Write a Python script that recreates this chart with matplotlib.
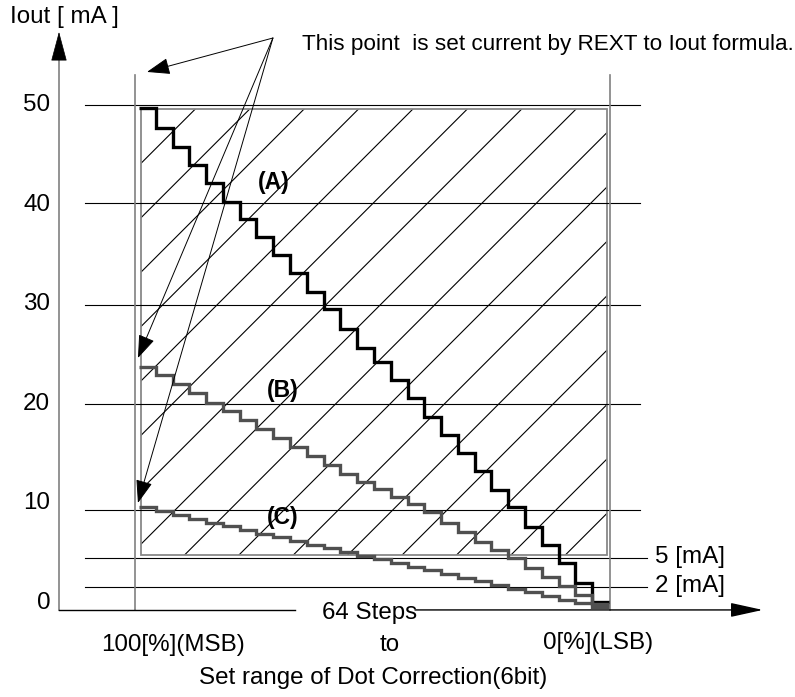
import numpy as np
import matplotlib
matplotlib.use('Agg')
import matplotlib.pyplot as plt
from matplotlib.patches import Rectangle
from matplotlib.collections import LineCollection

plt.rcParams['font.family'] = ['Liberation Sans', 'DejaVu Sans']

# Iout [mA] for each drawn step, from MSB (left) to LSB (right)
curve_a = [49.7, 47.7, 45.8, 44.0, 42.2, 40.3, 38.6, 36.8, 35.0, 33.2, 31.3, 29.5, 27.5, 25.6,
           24.2, 22.4, 20.6, 18.7, 16.9, 15.1, 13.3, 11.4, 9.6, 7.6, 5.8, 4.0, 2.0, 0.1]
curve_b = [23.7, 22.9, 22.0, 21.1, 20.1, 19.3, 18.4, 17.5, 16.6, 15.7, 14.8, 13.9, 13.0, 12.2,
           11.5, 10.7, 9.9, 9.1, 8.0, 7.1, 6.1, 5.3, 4.5, 3.5, 2.6, 1.7, 0.8, -0.1]
curve_c = [9.6, 9.2, 8.8, 8.4, 8.0, 7.7, 7.3, 6.9, 6.6, 6.2, 5.8, 5.5, 5.1, 4.7,
           4.4, 4.0, 3.6, 3.3, 2.9, 2.5, 2.2, 1.8, 1.4, 1.1, 0.7, 0.3, 0.0, -0.4]
curve_names = ['(A)', '(B)', '(C)']
curve_colors = ['#000000', '#505050', '#505050']

y_ticks = [0, 10, 20, 30, 40, 50]
guide_lines = [50.0, 40.2, 29.9, 20.0, 9.3]
limit_lines = [4.5, 1.6]
limit_labels = ['5 [mA]', '2 [mA]']
n_steps = 64

FS = 17.4

fig = plt.figure(figsize=(7.95, 6.97), dpi=100)
ax = fig.add_axes([0, 0, 1, 1])
ax.set_xlim(-18.19, 88.95)
ax.set_ylim(-9.45, 60.60)
ax.axis('off')

y_axis_x = -10.24
x_axis_y = -0.70

# set range box with hatching
box = Rectangle((0.81, 4.82), 63.6 - 0.81, 49.65 - 4.82, fill=False,
                edgecolor='#888888', lw=1.3, zorder=2)
ax.add_patch(box)

# 45 degree hatch lines, drawn in pixels and mapped back to data
(bx0, by0), (bx1, by1) = ax.transData.transform([(0.81, 4.82), (63.6, 49.65)])
spacing = 54.4
k = by1 - bx0
segs = []
while k >= by0 - bx1 - spacing:
    xs = np.array([bx0 - 20, bx1 + 20])
    pts = np.column_stack([xs, xs + k])
    segs.append(ax.transData.inverted().transform(pts))
    k -= spacing
hatch = LineCollection(segs, colors='black', linewidths=0.8, zorder=1)
ax.add_collection(hatch)
hatch.set_clip_path(box)

# guide lines
for y in guide_lines:
    ax.plot([-6.74, 68.04], [y, y], color='black', lw=0.8, zorder=2)
for y, lab in zip(limit_lines, limit_labels):
    ax.plot([-6.74, 69.0], [y, y], color='black', lw=0.8, zorder=2)
    ax.text(70.06, y + 0.15, lab, fontsize=FS, va='center', ha='left')

# MSB / LSB verticals
for x in [0, n_steps]:
    ax.plot([x, x], [x_axis_y, 53.07], color='#808080', lw=1.2, zorder=2)

# step curves
edges = np.linspace(0.54, 63.87, len(curve_a) + 1)
for vals, col in zip([curve_a, curve_b, curve_c], curve_colors):
    ax.stairs(vals, edges, baseline=None, color=col, lw=2.4, zorder=4)

for name, (x, y) in zip(curve_names, [(18.73, 42.3), (19.94, 21.4), (19.94, 8.64)]):
    ax.text(x, y, name, fontsize=16.5, fontweight='bold', ha='center', va='center', zorder=5)

# axes with arrowheads
ax.plot([y_axis_x, y_axis_x], [x_axis_y, 54.8], color='#808080', lw=1.2)
ax.annotate('', xy=(y_axis_x, 57.4), xytext=(y_axis_x, 54.6),
            arrowprops=dict(arrowstyle='-|>,head_length=0.97,head_width=0.26',
                            mutation_scale=20, color='black', lw=0.5,
                            shrinkA=0, shrinkB=0))
ax.plot([y_axis_x, 21.56], [x_axis_y, x_axis_y], color='black', lw=1.0)
ax.annotate('', xy=(84.6, x_axis_y), xytext=(37.73, x_axis_y),
            arrowprops=dict(arrowstyle='-|>,head_length=1.0,head_width=0.22',
                            mutation_scale=20, color='black', lw=1.0,
                            shrinkA=0, shrinkB=0))

for v in y_ticks:
    ax.text(-11.45, v, str(v), fontsize=FS, ha='right', va='center')
ax.text(-16.85, 58.9, 'Iout [ mA ]', fontsize=FS, ha='left', va='center')

# pointer arrows from the note
origin = (18.59, 56.78)
for tip in [(1.62, 53.37), (0.40, 24.62), (0.40, 10.05)]:
    ax.annotate('', xy=tip, xytext=origin,
                arrowprops=dict(arrowstyle='-|>,head_length=0.72,head_width=0.26',
                                mutation_scale=20, color='black', lw=0.7,
                                shrinkA=0, shrinkB=0), zorder=5)
ax.text(22.5, 55.58, 'This point  is set current by REXT to Iout formula.',
        fontsize=16.2, ha='left', va='baseline')

# x axis labels
ax.text(31.6, -1.0, '64 Steps', fontsize=FS, ha='center', va='center')
ax.text(34.36, -4.22, 'to', fontsize=FS, ha='center', va='center')
ax.text(5.19, -4.22, '100[%](MSB)', fontsize=FS, ha='center', va='center')
ax.text(62.38, -4.02, '0[%](LSB)', fontsize=FS, ha='center', va='center')
ax.text(32.13, -7.54, 'Set range of Dot Correction(6bit)', fontsize=FS,
        ha='center', va='center')

fig.savefig('out.png', dpi=100)
